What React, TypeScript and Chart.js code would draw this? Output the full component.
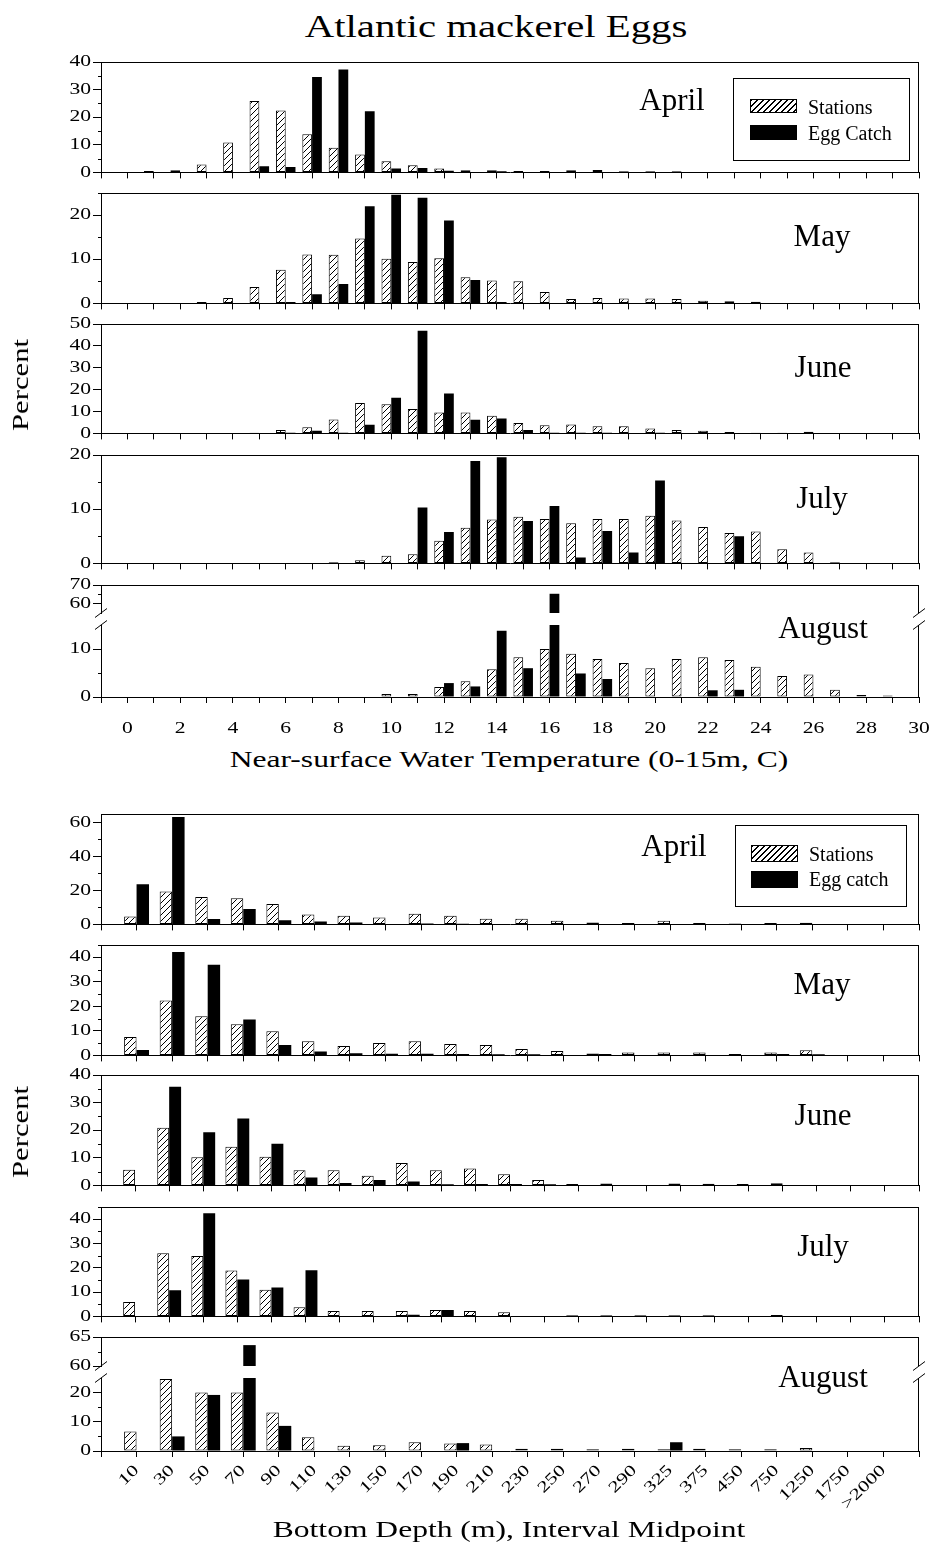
import React, { useEffect, useRef } from 'react';
import { Chart, registerables } from 'chart.js';

Chart.register(...registerables);

const SERIF = '"Liberation Serif", "Times New Roman", Times, serif';

// ---------------- categories & tick labels ----------------
const TEMP_CLASSES = [0, 1, 2, 3, 4, 5, 6, 7, 8, 9, 10, 11, 12, 13, 14, 15, 16, 17, 18, 19, 20, 21, 22, 23, 24, 25, 26, 27, 28, 29, 30];
const TEMP_TICK_LABELS = [0, 2, 4, 6, 8, 10, 12, 14, 16, 18, 20, 22, 24, 26, 28, 30];
const DEPTH_CLASSES = ['10', '30', '50', '70', '90', '110', '130', '150', '170', '190', '210', '230', '250', '270', '290', '325', '375', '450', '750', '1250', '1750', '>2000'];

// ---------------- temperature series (percent) ----------------
const tempAprStations = [0, 0.5, 0.8, 2.9, 10.8, 25.9, 22.4, 13.8, 8.9, 6.5, 4.0, 2.6, 1.4, 0.8, 0.8, 0.5, 0.5, 0.8, 0.9, 0.4, 0.4, 0.4, 0, 0, 0, 0, 0, 0, 0, 0, 0];
const tempAprEggs = [0, 0, 0, 0, 0, 2.2, 2.0, 34.6, 37.3, 22.2, 1.4, 1.6, 0.6, 0, 0.4, 0, 0, 0, 0, 0, 0, 0, 0, 0, 0, 0, 0, 0, 0, 0, 0];
const tempMayStations = [0, 0, 0, 0.3, 1.2, 3.7, 7.6, 11.1, 11.0, 14.7, 10.1, 9.4, 10.2, 5.9, 5.2, 5.0, 2.6, 1.0, 1.2, 1.1, 1.1, 1.0, 0.6, 0.5, 0.4, 0, 0, 0, 0, 0, 0];
const tempMayEggs = [0, 0, 0, 0, 0, 0, 0.3, 2.1, 4.4, 22.0, 24.6, 23.9, 18.8, 5.3, 0.3, 0, 0, 0, 0, 0, 0, 0, 0, 0, 0, 0, 0, 0, 0, 0, 0];
const tempJunStations = [0, 0, 0, 0, 0, 0.3, 1.5, 2.8, 6.4, 13.9, 13.3, 11.2, 9.5, 9.5, 8.1, 4.7, 3.7, 4.1, 3.3, 3.3, 2.2, 1.6, 1.2, 0.6, 0.3, 0.3, 0.7, 0, 0, 0, 0];
const tempJunEggs = [0, 0, 0, 0, 0, 0, 0.3, 1.2, 0.3, 4.0, 16.3, 46.9, 18.2, 6.2, 6.8, 1.6, 0.3, 0.3, 0.3, 0, 0.3, 0, 0, 0, 0, 0, 0, 0, 0, 0, 0];
const tempJulStations = [0, 0, 0, 0, 0, 0, 0, 0, 0.2, 0.6, 1.4, 1.7, 4.2, 6.6, 8.1, 8.6, 8.2, 7.4, 8.2, 8.2, 8.8, 7.9, 6.7, 5.6, 5.9, 2.6, 2.0, 0.2, 0, 0, 0];
const tempJulEggs = [0, 0, 0, 0, 0, 0, 0, 0, 0, 0, 0, 10.3, 5.8, 18.9, 19.6, 7.8, 10.6, 1.1, 6.0, 2.0, 15.3, 0, 0, 5.0, 0, 0, 0, 0, 0, 0, 0];
const tempAugStations = [0, 0, 0, 0, 0, 0, 0, 0, 0, 0, 0.6, 0.6, 2.1, 3.3, 5.8, 8.3, 10.0, 9.0, 7.9, 7.1, 6.0, 7.9, 8.3, 7.7, 6.3, 4.4, 4.7, 1.5, 0.4, 0.3, 0];
const tempAugEggs = [0, 0, 0, 0, 0, 0, 0, 0, 0, 0, 0, 0, 2.9, 2.2, 13.8, 6.0, 65.3, 4.9, 3.75, 0, 0, 0, 1.4, 1.5, 0, 0, 0, 0, 0, 0, 0];

// ---------------- depth series (percent) ----------------
const depthAprStations = [4.6, 19.4, 16.2, 15.4, 12.0, 5.9, 5.1, 4.0, 6.3, 5.1, 3.4, 3.4, 2.1, 1.1, 0.8, 2.1, 0.8, 0.6, 0.8, 1.0, 0, 0];
const depthAprEggs = [23.6, 63.2, 3.2, 9.1, 2.5, 1.7, 1.1, 0, 0.5, 0.4, 0, 0, 0, 0, 0, 0, 0.3, 0, 0.3, 0, 0, 0];
const depthMayStations = [7.5, 22.4, 16.0, 12.7, 9.8, 5.8, 3.8, 5.1, 5.8, 4.6, 4.2, 2.6, 1.8, 0.8, 1.2, 1.2, 1.2, 0.6, 1.2, 2.1, 0, 0];
const depthMayEggs = [2.2, 42.1, 37.0, 14.6, 4.2, 1.6, 0.9, 0.7, 0.7, 0.6, 0.5, 0.5, 0, 0.6, 0, 0, 0, 0, 0.6, 0.5, 0, 0];
const depthJunStations = [5.7, 20.9, 10.2, 14.0, 10.4, 5.5, 5.5, 3.5, 8.1, 5.5, 6.1, 4.0, 2.0, 0.5, 0.7, 0, 0.7, 0.6, 0.5, 0.8, 0, 0];
const depthJunEggs = [0, 35.7, 19.3, 24.2, 15.1, 2.9, 0.9, 2.0, 1.4, 0.4, 0.5, 0.5, 0.4, 0, 0, 0, 0, 0, 0, 0, 0, 0];
const depthJulStations = [5.9, 26.0, 24.8, 18.9, 11.0, 3.8, 2.2, 2.2, 2.2, 2.6, 2.2, 1.7, 0, 0.5, 0.5, 0.5, 0.5, 0.5, 0, 0.6, 0, 0];
const depthJulEggs = [0, 10.8, 42.4, 15.2, 11.9, 19.0, 0, 0, 0.7, 2.6, 0, 0, 0, 0, 0, 0, 0, 0, 0, 0, 0, 0];
const depthAugStations = [6.7, 24.7, 20.0, 20.0, 13.2, 4.7, 1.8, 2.0, 3.0, 2.6, 2.2, 0.8, 0.8, 0.6, 0.8, 0.6, 0.8, 0.6, 0.6, 1.0, 0, 0];
const depthAugEggs = [0, 5.0, 19.2, 63.6, 8.6, 0, 0, 0, 0, 2.7, 0, 0, 0, 0, 0, 3.0, 0, 0, 0, 0, 0, 0];

// ---------------- layout config ----------------
const PAGE_W = 932;
const AREA_LEFT = 101;
const AREA_RIGHT = 919;
const PAD_TOP = 14;
const TICK_FONT = 16;
const TEXT_STRETCH = 1.35;

type AxisSpec = { min: number; max: number; step: number; label: number; lo?: number; hi?: number };
type Panel = {
  id: string;
  kind: 'temp' | 'depth';
  top: number;
  bottom: number;
  stations: number[];
  eggs: number[];
  xMax: number;
  showX: boolean;
  xh: number;
  y?: AxisSpec;
  broken?: { low: AxisSpec; high: AxisSpec; weights: [number, number, number] };
};

const PANELS: Panel[] = [
  { id: 'tApr', kind: 'temp', top: 62, bottom: 176, stations: tempAprStations, eggs: tempAprEggs, xMax: 30, showX: false, xh: 8, y: { min: 0, max: 40, step: 5, label: 10 } },
  { id: 'tMay', kind: 'temp', top: 193, bottom: 307, stations: tempMayStations, eggs: tempMayEggs, xMax: 30, showX: false, xh: 8, y: { min: 0, max: 25, step: 5, label: 10 } },
  { id: 'tJun', kind: 'temp', top: 324, bottom: 437, stations: tempJunStations, eggs: tempJunEggs, xMax: 30, showX: false, xh: 8, y: { min: 0, max: 50, step: 10, label: 10 } },
  { id: 'tJul', kind: 'temp', top: 455, bottom: 567, stations: tempJulStations, eggs: tempJulEggs, xMax: 30, showX: false, xh: 8, y: { min: 0, max: 20, step: 5, label: 10 } },
  {
    id: 'tAug', kind: 'temp', top: 585, bottom: 697, stations: tempAugStations, eggs: tempAugEggs, xMax: 30, showX: true, xh: 48,
    broken: { low: { min: 0, max: 15, step: 5, label: 10, hi: 10 }, high: { min: 55, max: 70, step: 5, label: 10, lo: 60 }, weights: [28, 12, 72] },
  },
  { id: 'dApr', kind: 'depth', top: 814, bottom: 928, stations: depthAprStations, eggs: depthAprEggs, xMax: 22, showX: false, xh: 8, y: { min: 0, max: 65, step: 10, label: 20 } },
  { id: 'dMay', kind: 'depth', top: 945, bottom: 1059, stations: depthMayStations, eggs: depthMayEggs, xMax: 22, showX: false, xh: 8, y: { min: 0, max: 45, step: 5, label: 10 } },
  { id: 'dJun', kind: 'depth', top: 1075, bottom: 1189, stations: depthJunStations, eggs: depthJunEggs, xMax: 23, showX: false, xh: 8, y: { min: 0, max: 40, step: 5, label: 10 } },
  { id: 'dJul', kind: 'depth', top: 1207, bottom: 1320, stations: depthJulStations, eggs: depthJulEggs, xMax: 23, showX: false, xh: 8, y: { min: 0, max: 45, step: 5, label: 10 } },
  {
    id: 'dAug', kind: 'depth', top: 1337, bottom: 1451, stations: depthAugStations, eggs: depthAugEggs, xMax: 22, showX: true, xh: 66,
    broken: { low: { min: 0, max: 25, step: 5, label: 10, hi: 20 }, high: { min: 60, max: 65, step: 2.5, label: 5 }, weights: [29, 12, 73] },
  },
];

const MONTH_LABELS = [
  { text: 'April', x: 672, y: 99 },
  { text: 'May', x: 822, y: 235 },
  { text: 'June', x: 823, y: 366 },
  { text: 'July', x: 822, y: 497 },
  { text: 'August', x: 823, y: 627 },
  { text: 'April', x: 674, y: 845 },
  { text: 'May', x: 822, y: 983 },
  { text: 'June', x: 823, y: 1114 },
  { text: 'July', x: 823, y: 1245 },
  { text: 'August', x: 823, y: 1376 },
];

// ---------------- helpers ----------------
function isMajor(v: number, label: number) {
  const r = v / label;
  return Math.abs(r - Math.round(r)) < 1e-6;
}

function stretchText(ctx: CanvasRenderingContext2D, k: number) {
  const anyCtx = ctx as any;
  if (anyCtx.__stretched) return;
  anyCtx.__stretched = true;
  const orig = ctx.fillText.bind(ctx);
  anyCtx.fillText = (text: string, x: number, y: number, maxWidth?: number) => {
    ctx.save();
    ctx.translate(x, y);
    ctx.scale(k, 1);
    if (maxWidth === undefined || maxWidth === null) orig(text, 0, 0);
    else orig(text, 0, 0, maxWidth / k);
    ctx.restore();
  };
}

function makeHatch(ctx: CanvasRenderingContext2D) {
  const s = 6;
  const c = document.createElement('canvas');
  c.width = s;
  c.height = s;
  const g = c.getContext('2d') as CanvasRenderingContext2D;
  g.fillStyle = '#fff';
  g.fillRect(0, 0, s, s);
  g.fillStyle = '#000';
  for (let i = 0; i < s; i++) g.fillRect(i, s - 1 - i, 1, 1);
  return ctx.createPattern(c, 'repeat') as CanvasPattern;
}

function yScale(a: AxisSpec, extra: Record<string, unknown>) {
  const lo = a.lo ?? a.min;
  const hi = a.hi ?? a.max;
  return {
    type: 'linear',
    position: 'left',
    min: a.min,
    max: a.max,
    stacked: false,
    grid: {
      drawOnChartArea: false,
      drawTicks: true,
      tickLength: 8,
      tickWidth: 1,
      color: '#000',
      tickColor: (c: any) => (c.tick && isMajor(c.tick.value, a.label) ? '#000' : 'rgba(0,0,0,0)'),
    },
    border: { display: true, color: '#000', width: 1 },
    ticks: {
      stepSize: a.step,
      includeBounds: false,
      autoSkip: false,
      color: '#000',
      padding: 2,
      font: { family: SERIF, size: TICK_FONT },
      callback: (v: number) => (isMajor(v, a.label) ? String(v) : ''),
    },
    afterBuildTicks: (s: any) => {
      s.ticks = s.ticks.filter((t: any) => t.value >= lo - 1e-9 && t.value <= hi + 1e-9);
    },
    afterFit: (s: any) => {
      s.width = AREA_LEFT;
    },
    ...extra,
  };
}

function buildChart(canvas: HTMLCanvasElement, p: Panel) {
  const ctx = canvas.getContext('2d') as CanvasRenderingContext2D;
  stretchText(ctx, TEXT_STRETCH);
  const hatch = makeHatch(ctx);
  const isTemp = p.kind === 'temp';
  const xs = isTemp ? TEMP_CLASSES : DEPTH_CLASSES.map((_, i) => i);
  const low = p.broken ? p.broken.low : (p.y as AxisSpec);
  const cp = isTemp ? 0.74 : 0.7;

  const datasets: any[] = [
    {
      label: 'Stations',
      data: xs.map((x, i) => ({ x, y: p.stations[i] })),
      yAxisID: 'y',
      stack: 's',
      backgroundColor: hatch,
      borderColor: '#000',
      borderWidth: 1,
      borderSkipped: false,
      categoryPercentage: cp,
      barPercentage: 1,
    },
    {
      label: 'Egg catch',
      data: xs.map((x, i) => ({ x, y: Math.min(p.eggs[i], low.max) })),
      yAxisID: 'y',
      stack: 'e',
      backgroundColor: '#000',
      borderColor: '#000',
      borderWidth: 0,
      categoryPercentage: cp,
      barPercentage: 1,
    },
  ];

  const xLabel = (v: number) => {
    if (!Number.isInteger(v)) return '';
    if (isTemp) return TEMP_TICK_LABELS.includes(v) ? String(v) : '';
    return v >= 0 && v < DEPTH_CLASSES.length ? DEPTH_CLASSES[v] : '';
  };

  const scales: any = {
    x: {
      type: 'linear',
      position: 'bottom',
      min: -1,
      max: p.xMax,
      offset: false,
      grid: { offset: false, drawOnChartArea: false, drawTicks: true, tickLength: 6, color: '#000', tickColor: '#000' },
      border: { display: true, color: '#000', width: 1 },
      ticks: {
        display: p.showX,
        stepSize: 1,
        autoSkip: false,
        includeBounds: true,
        color: '#000',
        font: { family: SERIF, size: TICK_FONT },
        padding: isTemp ? 16 : 4,
        maxRotation: isTemp ? 0 : 45,
        minRotation: isTemp ? 0 : 45,
        callback: (v: number) => xLabel(v),
      },
      afterFit: (s: any) => {
        s.height = p.xh;
        s.paddingLeft = 0;
        s.paddingRight = 0;
      },
    },
  };

  if (p.broken) {
    const b = p.broken;
    scales.y = yScale(b.low, { stack: 'v', stackWeight: b.weights[2], weight: 1 });
    scales.yGap = {
      type: 'linear',
      position: 'left',
      min: 0,
      max: 1,
      display: true,
      stack: 'v',
      stackWeight: b.weights[1],
      weight: 2,
      grid: { display: false },
      border: { display: false },
      ticks: { display: false },
      afterFit: (s: any) => {
        s.width = AREA_LEFT;
      },
    };
    scales.yHigh = yScale(b.high, { stack: 'v', stackWeight: b.weights[0], weight: 3 });
    datasets.push({
      label: 'Egg catch (upper)',
      data: xs
        .map((x, i) => (p.eggs[i] > b.high.min ? { x, y: [b.high.min, p.eggs[i]] } : null))
        .filter((d) => d !== null),
      yAxisID: 'yHigh',
      stack: 'e',
      backgroundColor: '#000',
      borderColor: '#000',
      borderWidth: 0,
      borderSkipped: false,
      categoryPercentage: cp,
      barPercentage: 1,
    });
  } else {
    scales.y = yScale(p.y as AxisSpec, {});
  }

  const framePlugin = {
    id: 'frame-' + p.id,
    afterDraw(chart: any) {
      const c = chart.ctx as CanvasRenderingContext2D;
      const a = chart.chartArea;
      const line = (x1: number, y1: number, x2: number, y2: number) => {
        c.beginPath();
        c.moveTo(x1, y1);
        c.lineTo(x2, y2);
        c.stroke();
      };
      c.save();
      c.strokeStyle = '#000';
      c.lineWidth = 1;
      const topY = Math.round(a.top) + 0.5;
      const R = Math.round(a.right) - 0.5;
      line(a.left, topY, a.right, topY);
      const segs: Array<[number, number]> = p.broken
        ? [
            [chart.scales.yHigh.top, chart.scales.yHigh.bottom],
            [chart.scales.y.top, chart.scales.y.bottom],
          ]
        : [[a.top, a.bottom]];
      segs.forEach(([t, b]) => line(R, t, R, b));
      if (p.broken) {
        const ys = [chart.scales.yHigh.bottom, chart.scales.y.top];
        ys.forEach((yy) => {
          [a.left, a.right].forEach((xx) => line(xx - 6, yy + 4.5, xx + 6, yy - 4.5));
        });
      }
      // minor ticks on the y axes
      const specs: Array<[string, AxisSpec]> = p.broken
        ? [
            ['y', p.broken.low],
            ['yHigh', p.broken.high],
          ]
        : [['y', p.y as AxisSpec]];
      specs.forEach(([id, spec]) => {
        const s = chart.scales[id];
        s.ticks.forEach((t: any) => {
          if (!isMajor(t.value, spec.label)) {
            const yy = Math.round(s.getPixelForValue(t.value)) + 0.5;
            line(a.left - 3, yy, a.left, yy);
          }
        });
      });
      c.restore();
    },
  };

  return new Chart(canvas, {
    type: 'bar',
    data: { datasets },
    options: {
      responsive: false,
      animation: false,
      devicePixelRatio: 1,
      events: [],
      layout: { padding: { top: PAD_TOP, left: 0, right: PAGE_W - AREA_RIGHT, bottom: 0 } },
      plugins: { legend: { display: false }, tooltip: { enabled: false }, title: { display: false } },
      scales,
    } as any,
    plugins: [framePlugin],
  });
}

// ---------------- text components ----------------
function Txt(props: { x: number; y: number; size: number; sx?: number; rot?: number; left?: boolean; children: React.ReactNode }) {
  const { x, y, size, sx = 1, rot = 0, left = false, children } = props;
  return (
    <div
      style={{
        position: 'absolute',
        left: x,
        top: y,
        fontFamily: SERIF,
        fontSize: size,
        lineHeight: `${size}px`,
        whiteSpace: 'nowrap',
        color: '#000',
        transformOrigin: left ? '0 50%' : '50% 50%',
        transform: left ? `translate(0,-50%) scaleX(${sx})` : `translate(-50%,-50%) rotate(${rot}deg) scaleX(${sx})`,
      }}
    >
      {children}
    </div>
  );
}

const HATCH_CSS = 'repeating-linear-gradient(135deg, #000 0px, #000 1px, #fff 1px, #fff 4.24px)';

function LegendBox(props: { box: [number, number, number, number]; swX: number; swW: number; rows: Array<{ y: number; h: number; hatched: boolean; text: string; ty: number }>; tx: number }) {
  const { box, swX, swW, rows, tx } = props;
  return (
    <>
      <div style={{ position: 'absolute', left: box[0], top: box[1], width: box[2], height: box[3], border: '1px solid #000', boxSizing: 'border-box', background: '#fff' }} />
      {rows.map((r) => (
        <React.Fragment key={r.text}>
          <div
            style={{
              position: 'absolute',
              left: swX,
              top: r.y,
              width: swW,
              height: r.h,
              boxSizing: 'border-box',
              border: '1px solid #000',
              background: r.hatched ? HATCH_CSS : '#000',
            }}
          />
          <Txt x={tx} y={r.ty} size={20} left>
            {r.text}
          </Txt>
        </React.Fragment>
      ))}
    </>
  );
}

export default function App() {
  const canvasRefs = useRef<Array<HTMLCanvasElement | null>>([]);

  useEffect(() => {
    const charts = PANELS.map((p, i) => buildChart(canvasRefs.current[i] as HTMLCanvasElement, p));
    return () => {
      charts.forEach((c) => c.destroy());
    };
  }, []);

  return (
    <div style={{ position: 'absolute', left: 0, top: 0, width: PAGE_W, height: 1547, background: '#fff', overflow: 'hidden' }}>
      {PANELS.map((p, i) => (
        <canvas
          key={p.id}
          ref={(el) => {
            canvasRefs.current[i] = el;
          }}
          width={PAGE_W}
          height={PAD_TOP + (p.bottom - p.top) + p.xh}
          style={{ position: 'absolute', left: 0, top: p.top - PAD_TOP, width: PAGE_W, height: PAD_TOP + (p.bottom - p.top) + p.xh }}
        />
      ))}

      <Txt x={496} y={26} size={31} sx={1.315}>
        Atlantic mackerel Eggs
      </Txt>

      {MONTH_LABELS.map((m, i) => (
        <Txt key={i} x={m.x} y={m.y} size={31}>
          {m.text}
        </Txt>
      ))}

      <Txt x={20} y={385} size={24} sx={1.28} rot={-90}>
        Percent
      </Txt>
      <Txt x={20} y={1132} size={24} sx={1.28} rot={-90}>
        Percent
      </Txt>

      <Txt x={509} y={759} size={24} sx={1.315}>
        Near-surface Water Temperature (0-15m, C)
      </Txt>
      <Txt x={509} y={1529} size={24} sx={1.315}>
        Bottom Depth (m), Interval Midpoint
      </Txt>

      <LegendBox
        box={[733, 78, 177, 83]}
        swX={750}
        swW={47}
        tx={808}
        rows={[
          { y: 99, h: 14, hatched: true, text: 'Stations', ty: 107 },
          { y: 125, h: 15, hatched: false, text: 'Egg Catch', ty: 133 },
        ]}
      />
      <LegendBox
        box={[735, 825, 172, 82]}
        swX={751}
        swW={47}
        tx={809}
        rows={[
          { y: 845, h: 17, hatched: true, text: 'Stations', ty: 854 },
          { y: 871, h: 17, hatched: false, text: 'Egg catch', ty: 879 },
        ]}
      />
    </div>
  );
}
